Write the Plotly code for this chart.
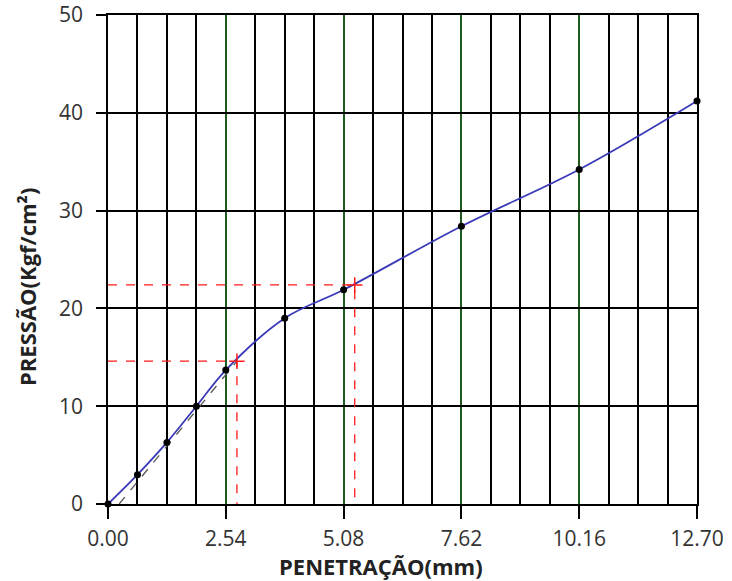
import plotly.graph_objects as go

# Data
penetracao = [0.0, 0.635, 1.27, 1.905, 2.54, 3.81, 5.08, 7.62, 10.16, 12.70]
pressao = [0.0, 3.0, 6.3, 10.0, 13.7, 19.0, 21.9, 28.4, 34.2, 41.2]

# Corrected readings (red dashed guides)
corr_x = [2.78, 5.32]
corr_y = [14.6, 22.4]

# Correction tangent line (dashed)
tangent_x = [0.24, 2.78]
tangent_y = [0.0, 14.6]

x_ticks = [0.0, 2.54, 5.08, 7.62, 10.16, 12.70]
y_ticks = [0, 10, 20, 30, 40, 50]

FONT = "Open Sans"

fig = go.Figure()

# Red dashed guides for corrected values
for cx, cy in zip(corr_x, corr_y):
    fig.add_trace(go.Scatter(
        x=[0, cx, cx], y=[cy, cy, 0], mode="lines",
        line=dict(color="#ff1a1a", width=1.3, dash="dash"),
        hoverinfo="skip", showlegend=False))

fig.add_trace(go.Scatter(
    x=tangent_x, y=tangent_y, mode="lines",
    line=dict(color="#555555", width=1.3, dash="dash"),
    hoverinfo="skip", showlegend=False))

fig.add_trace(go.Scatter(
    x=penetracao, y=pressao, mode="lines",
    line=dict(color="#3a3ab8", width=1.8, shape="spline", smoothing=1.0),
    showlegend=False))

fig.add_trace(go.Scatter(
    x=penetracao, y=pressao, mode="markers",
    marker=dict(color="black", size=7),
    showlegend=False, cliponaxis=False))

fig.add_trace(go.Scatter(
    x=corr_x, y=corr_y, mode="markers",
    marker=dict(symbol="cross-thin", size=11, line=dict(color="#ff1a1a", width=1.5)),
    showlegend=False))

title_font = dict(family=FONT, size=22, color="#222222")

fig.update_layout(
    width=732, height=581,
    margin=dict(l=108, r=35, t=15, b=77),
    paper_bgcolor="white", plot_bgcolor="white",
    font=dict(family=FONT, size=21, color="#333333"),
    xaxis=dict(
        range=[0, 12.70],
        tickvals=x_ticks,
        ticktext=[f"{v:.2f}" for v in x_ticks],
        showgrid=True, gridcolor="#1f5a1f", gridwidth=1.5,
        minor=dict(dtick=0.635, tick0=0, showgrid=True, gridcolor="black", gridwidth=1.5),
        ticks="outside", ticklen=13, tickwidth=1.5, tickcolor="black",
        ticklabelstandoff=2, ticklabeloverflow="allow",
        showline=True, linecolor="black", linewidth=1.5, mirror=True,
        zeroline=False, automargin=False,
    ),
    yaxis=dict(
        range=[0, 50],
        tickvals=y_ticks,
        showgrid=True, gridcolor="black", gridwidth=1.5,
        ticks="outside", ticklen=10, tickwidth=1.5, tickcolor="black",
        ticklabelstandoff=9, ticklabeloverflow="allow",
        showline=True, linecolor="black", linewidth=1.5, mirror=True,
        zeroline=False, automargin=False,
    ),
    annotations=[
        dict(text="<b>PENETRAÇÃO(mm)</b>", xref="paper", yref="paper",
             x=0.4635, y=-0.1268, xanchor="center", yanchor="middle",
             showarrow=False, font=title_font),
        dict(text="<b>PRESSÃO(Kgf/cm²)</b>", xref="paper", yref="paper",
             x=-0.1375, y=0.4438, xanchor="center", yanchor="middle",
             textangle=-90, showarrow=False, font=title_font),
    ],
)

fig.write_html("out.html", config={"displayModeBar": False},
               post_script="document.body.style.margin='0';")
